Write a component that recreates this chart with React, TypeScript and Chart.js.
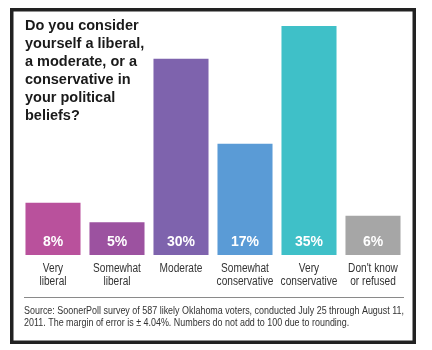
import React, { useEffect, useRef } from "react";
import { Chart, registerables } from "chart.js";

Chart.register(...registerables);

const categories: string[][] = [
  ["Very", "liberal"],
  ["Somewhat", "liberal"],
  ["Moderate"],
  ["Somewhat", "conservative"],
  ["Very", "conservative"],
  ["Don't know", "or refused"],
];
const values: number[] = [8, 5, 30, 17, 35, 6];
const valueLabels: string[] = ["8%", "5%", "30%", "17%", "35%", "6%"];
const barColors: string[] = ["#b9519c", "#9c52a0", "#7e63ad", "#5a9bd6", "#3fc0c8", "#a6a6a6"];
const titleLines: string[] = [
  "Do you consider",
  "yourself a liberal,",
  "a moderate, or a",
  "conservative in",
  "your political",
  "beliefs?",
];
const sourceLines: string[] = [
  "Source: SoonerPoll survey of 587 likely Oklahoma voters, conducted July 25 through August 11,",
  "2011. The margin of error is \u00b1 4.04%. Numbers do not add to 100 due to rounding.",
];

const sans = "'Liberation Sans', Arial, sans-serif";

function narrowText(ctx: any, text: string, x: number, y: number, sx: number, align: string) {
  const w = ctx.measureText(text).width * sx;
  let left = x;
  if (align === "center") left = x - w / 2;
  ctx.save();
  ctx.textAlign = "left";
  ctx.translate(left, y);
  ctx.scale(sx, 1);
  ctx.fillText(text, 0, 0);
  ctx.restore();
}

const decorPlugin = {
  id: "decor",
  beforeDraw(chart: any) {
    const ctx = chart.ctx;
    ctx.save();
    ctx.fillStyle = "#ffffff";
    ctx.fillRect(0, 0, chart.width, chart.height);
    ctx.restore();
  },
  afterDraw(chart: any) {
    const ctx = chart.ctx;
    const meta = chart.getDatasetMeta(0);
    const yScale = chart.scales.y;
    const base = yScale.getPixelForValue(0);
    ctx.save();
    ctx.textBaseline = "alphabetic";
    // title
    ctx.fillStyle = "#1a1a1a";
    ctx.font = "bold 14.5px " + sans;
    ctx.textAlign = "left";
    titleLines.forEach((t, i) => ctx.fillText(t, 25, 30 + i * 18));
    // value labels
    ctx.fillStyle = "#ffffff";
    ctx.font = "bold 14px " + sans;
    ctx.textAlign = "center";
    meta.data.forEach((bar: any, i: number) => {
      ctx.fillText(valueLabels[i], bar.x, base - 9);
    });
    // category labels
    ctx.fillStyle = "#333333";
    ctx.font = "12.5px " + sans;
    meta.data.forEach((bar: any, i: number) => {
      categories[i].forEach((line, j) => narrowText(ctx, line, bar.x, base + 16.5 + j * 13, 0.81, "center"));
    });
    // separator
    ctx.strokeStyle = "#8a8a8a";
    ctx.lineWidth = 1;
    ctx.beginPath();
    ctx.moveTo(24, 297.5);
    ctx.lineTo(404, 297.5);
    ctx.stroke();
    // source
    ctx.fillStyle = "#333333";
    ctx.font = "10px " + sans;
    const sx = 380 / ctx.measureText(sourceLines[0]).width;
    sourceLines.forEach((t, i) => narrowText(ctx, t, 24, 314 + i * 11.5, sx, "left"));
    // border
    ctx.strokeStyle = "#222222";
    ctx.lineWidth = 3.5;
    ctx.strokeRect(11.75, 9.75, 402.5, 332.5);
    ctx.restore();
  },
};

export default function App() {
  const ref = useRef<HTMLCanvasElement | null>(null);
  useEffect(() => {
    document.body.style.margin = "0";
    const chart = new Chart(ref.current as HTMLCanvasElement, {
      type: "bar",
      data: {
        labels: categories.map((c) => c.join(" ")),
        datasets: [
          {
            data: values,
            backgroundColor: barColors,
            borderWidth: 0,
            barPercentage: 0.86,
            categoryPercentage: 1,
          },
        ],
      },
      options: {
        responsive: false,
        animation: false,
        layout: { padding: { left: 21, right: 27, top: 26, bottom: 95 } },
        plugins: { legend: { display: false }, tooltip: { enabled: false }, title: { display: false } },
        scales: {
          x: { display: false },
          y: { display: false, min: 0, max: 35 },
        },
      },
      plugins: [decorPlugin],
    });
    return () => chart.destroy();
  }, []);
  return (
    <div style={{ width: 432, height: 350 }}>
      <canvas ref={ref} width={432} height={350} style={{ width: 432, height: 350, display: "block" }} />
    </div>
  );
}
